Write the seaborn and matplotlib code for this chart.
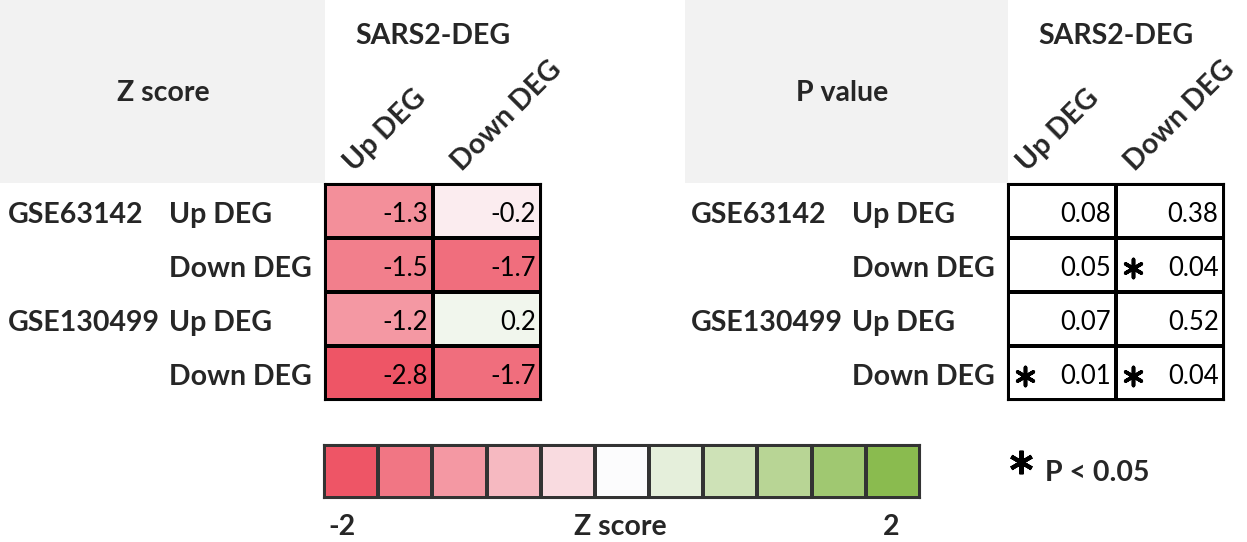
import numpy as np
import pandas as pd
import seaborn as sns
import matplotlib.pyplot as plt
from matplotlib.colors import LinearSegmentedColormap, ListedColormap
from matplotlib.patches import Rectangle

# data
datasets = ["GSE63142", "GSE130499"]
row_labels = ["Up DEG", "Down DEG", "Up DEG", "Down DEG"]
col_labels = ["Up DEG", "Down DEG"]
z_up = [-1.3, -1.5, -1.2, -2.8]
z_down = [-0.2, -1.7, 0.2, -1.7]
p_up = [0.08, 0.05, 0.07, 0.01]
p_down = [0.38, 0.04, 0.52, 0.04]
legend_steps = [-2.0, -1.6, -1.2, -0.8, -0.4, 0.0, 0.4, 0.8, 1.2, 1.6, 2.0]
sig_level = 0.05

zdf = pd.DataFrame({"Up DEG": z_up, "Down DEG": z_down})
pdf = pd.DataFrame({"Up DEG": p_up, "Down DEG": p_down})

sns.set_style("white")
plt.rcParams["font.family"] = ["Lato", "DejaVu Sans"]

cmap = LinearSegmentedColormap.from_list("rwg", ["#ee5566", "#fcfcfe", "#8abb4f"])

W, H = 1247, 542
fig = plt.figure(figsize=(W / 100, H / 100), dpi=100)
LBL = 20.5   # bold label size
NUM = 18.5   # cell number size


def box(x0, y0, x1, y1):
    return [x0 / W, 1 - y1 / H, (x1 - x0) / W, (y1 - y0) / H]


def fx(x):
    return x / W


def fy(y):
    return 1 - y / H


# grey header boxes
for x0, x1 in [(0, 325), (685, 1008)]:
    fig.patches.append(Rectangle((fx(x0), fy(183)), (x1 - x0) / W, 183 / H,
                                 transform=fig.transFigure, facecolor="#f2f2f2",
                                 edgecolor="none", zorder=0))

ax_z = fig.add_axes(box(325, 184, 541, 400))
ax_p = fig.add_axes(box(1008, 184, 1224, 400))

sns.heatmap(zdf, ax=ax_z, cmap=cmap, vmin=-2, vmax=2, annot=True, fmt=".1f",
            annot_kws={"fontsize": NUM, "color": "black"},
            linewidths=1.5, linecolor="black", cbar=False)
sns.heatmap(pdf, ax=ax_p, cmap=ListedColormap(["white"]), annot=True, fmt=".2f",
            annot_kws={"fontsize": NUM, "color": "black"},
            linewidths=1.5, linecolor="black", cbar=False)

for ax, title, hx, cx in [(ax_z, "Z score", 163, 0.27), (ax_p, "P value", 842, 0.18)]:
    # right-align cell numbers
    for t in ax.texts:
        x, y = t.get_position()
        t.set_position((x + 0.45, y + 0.07))
        t.set_ha("right")
    ax.set_xticks([])
    ax.set_yticks([])
    ax.set_xlabel("")
    ax.set_ylabel("")
    for s in ax.spines.values():
        s.set_visible(True)
        s.set_linewidth(1.5)
        s.set_color("black")
    # column labels, rotated
    for j, lab in enumerate(col_labels):
        ax.text(j + cx, -0.22, lab, rotation=45, rotation_mode="anchor",
                ha="left", va="baseline", fontsize=LBL, fontweight="bold",
                clip_on=False)
    # row labels
    for i, lab in enumerate(row_labels):
        ax.text(-1.44, i + 0.58, lab, ha="left", va="center", fontsize=LBL,
                fontweight="bold", clip_on=False)
    for k, ds in enumerate(datasets):
        ax.text(-2.94, 2 * k + 0.58, ds, ha="left", va="center", fontsize=LBL,
                fontweight="bold", clip_on=False)
    ax.text(1.0, -2.75, "SARS2-DEG", ha="center", va="center", fontsize=LBL,
            fontweight="bold", clip_on=False)
    fig.text(fx(hx), fy(93), title, ha="center", va="center", fontsize=LBL,
             fontweight="bold")

# significance asterisks
sig = pdf.values < sig_level
rows, cols = np.where(sig)
ax_p.scatter(cols + 0.16, rows + 0.55, marker=(6, 2, 0), s=170, color="black",
             linewidths=2.6, clip_on=False, zorder=5)

# legend bar
ax_c = fig.add_axes(box(324, 445, 920, 498))
sns.heatmap(pd.DataFrame([legend_steps]), ax=ax_c, cmap=cmap, vmin=-2, vmax=2,
            linewidths=1.5, linecolor="#333333", cbar=False, annot=False)
ax_c.set_xticks([])
ax_c.set_yticks([])
for s in ax_c.spines.values():
    s.set_visible(True)
    s.set_linewidth(1.5)
    s.set_color("#333333")
fig.text(fx(328), fy(527), "-2", ha="left", va="center", fontsize=LBL, fontweight="bold")
fig.text(fx(620), fy(527), "Z score", ha="center", va="center", fontsize=LBL, fontweight="bold")
fig.text(fx(899), fy(527), "2", ha="right", va="center", fontsize=LBL, fontweight="bold")

# p legend
fig.add_artist(plt.Line2D([fx(1021)], [fy(462)], marker=(6, 2, 0), markersize=17,
                          markeredgewidth=3, color="black", linestyle="none"))
fig.text(fx(1045), fy(473), "P < 0.05", ha="left", va="center", fontsize=LBL,
         fontweight="bold")

fig.savefig("out.png", dpi=100)
